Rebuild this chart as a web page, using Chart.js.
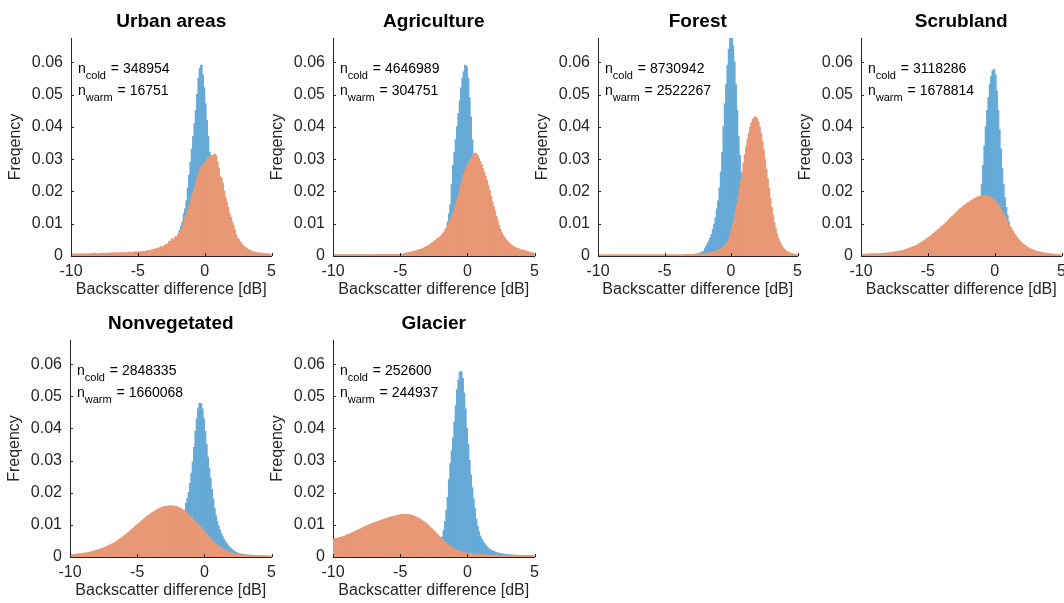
<!DOCTYPE html>
<html>
<head>
<meta charset="utf-8">
<script src="https://cdn.jsdelivr.net/npm/chart.js@4"></script>
<style>
  html, body { margin: 0; padding: 0; background: #fff; overflow: hidden; }
  body { width: 1064px; height: 603px; position: relative; }
  canvas { position: absolute; }
</style>
</head>
<body>
<script>
// histogram bin centres [dB], 0.1 dB bins from -10 to 5 (one row = 1 dB)
var binCenters = [
  -9.95, -9.85, -9.75, -9.65, -9.55, -9.45, -9.35, -9.25, -9.15, -9.05,
  -8.95, -8.85, -8.75, -8.65, -8.55, -8.45, -8.35, -8.25, -8.15, -8.05,
  -7.95, -7.85, -7.75, -7.65, -7.55, -7.45, -7.35, -7.25, -7.15, -7.05,
  -6.95, -6.85, -6.75, -6.65, -6.55, -6.45, -6.35, -6.25, -6.15, -6.05,
  -5.95, -5.85, -5.75, -5.65, -5.55, -5.45, -5.35, -5.25, -5.15, -5.05,
  -4.95, -4.85, -4.75, -4.65, -4.55, -4.45, -4.35, -4.25, -4.15, -4.05,
  -3.95, -3.85, -3.75, -3.65, -3.55, -3.45, -3.35, -3.25, -3.15, -3.05,
  -2.95, -2.85, -2.75, -2.65, -2.55, -2.45, -2.35, -2.25, -2.15, -2.05,
  -1.95, -1.85, -1.75, -1.65, -1.55, -1.45, -1.35, -1.25, -1.15, -1.05,
  -0.95, -0.85, -0.75, -0.65, -0.55, -0.45, -0.35, -0.25, -0.15, -0.05,
  0.05, 0.15, 0.25, 0.35, 0.45, 0.55, 0.65, 0.75, 0.85, 0.95,
  1.05, 1.15, 1.25, 1.35, 1.45, 1.55, 1.65, 1.75, 1.85, 1.95,
  2.05, 2.15, 2.25, 2.35, 2.45, 2.55, 2.65, 2.75, 2.85, 2.95,
  3.05, 3.15, 3.25, 3.35, 3.45, 3.55, 3.65, 3.75, 3.85, 3.95,
  4.05, 4.15, 4.25, 4.35, 4.45, 4.55, 4.65, 4.75, 4.85, 4.95
];

var panelTitles = ["Urban areas", "Agriculture", "Forest", "Scrubland", "Nonvegetated", "Glacier"];
var nCold = ["348954", "4646989", "8730942", "3118286", "2848335", "252600"];
var nWarm = ["16751", "304751", "2522267", "1678814", "1660068", "244937"];
var yTicks = [0, 0.01, 0.02, 0.03, 0.04, 0.05, 0.06];
var xTicks = [-10, -5, 0, 5];

var urbanCold = [
  0.0003, 0.0003, 0.0003, 0.0003, 0.0003, 0.0003, 0.0003, 0.0003, 0.0003, 0.0003,
  0.0003, 0.0003, 0.0003, 0.0003, 0.0003, 0.0003, 0.0003, 0.0003, 0.0003, 0.0003,
  0.0003, 0.0003, 0.0003, 0.0004, 0.0004, 0.0004, 0.0004, 0.0004, 0.0004, 0.0004,
  0.0004, 0.0005, 0.0005, 0.0005, 0.0005, 0.0005, 0.0005, 0.0005, 0.0005, 0.0006,
  0.0006, 0.0006, 0.0006, 0.0006, 0.0006, 0.0007, 0.0007, 0.0007, 0.0007, 0.0007,
  0.0007, 0.0008, 0.0008, 0.0008, 0.0008, 0.0009, 0.0009, 0.0009, 0.0009, 0.001,
  0.001, 0.001, 0.001, 0.0011, 0.0011, 0.0012, 0.0012, 0.0013, 0.0013, 0.0014,
  0.0014, 0.0015, 0.0017, 0.0019, 0.0021, 0.0023, 0.0027, 0.0032, 0.004, 0.005,
  0.0065, 0.008, 0.0092, 0.0105, 0.013, 0.0145, 0.017, 0.021, 0.025, 0.029,
  0.033, 0.037, 0.041, 0.045, 0.050, 0.055, 0.058, 0.059, 0.056, 0.052,
  0.047, 0.042, 0.037, 0.032, 0.027, 0.022, 0.018, 0.015, 0.012, 0.010,
  0.008, 0.0068, 0.0056, 0.0046, 0.0038, 0.0032, 0.0027, 0.0023, 0.002, 0.0018,
  0.0016, 0.0014, 0.0013, 0.0012, 0.0011, 0.001, 0.0009, 0.0009, 0.0008, 0.0008,
  0.0007, 0.0007, 0.0007, 0.0006, 0.0006, 0.0006, 0.0005, 0.0005, 0.0005, 0.0005,
  0.0004, 0.0004, 0.0004, 0.0004, 0.0004, 0.0003, 0.0003, 0.0003, 0.0003, 0.0003
];
var urbanWarm = [
  0.0005, 0.0004, 0.0006, 0.0005, 0.0005, 0.0006, 0.0005, 0.0006, 0.0005, 0.0006,
  0.0006, 0.0005, 0.0007, 0.0006, 0.0006, 0.0007, 0.0006, 0.0008, 0.0007, 0.0006,
  0.0007, 0.0006, 0.0007, 0.0008, 0.0007, 0.0007, 0.0008, 0.0007, 0.0008, 0.0008,
  0.0008, 0.0008, 0.0009, 0.0008, 0.0009, 0.0009, 0.0008, 0.001, 0.0009, 0.001,
  0.0009, 0.001, 0.0009, 0.0011, 0.001, 0.001, 0.0011, 0.0012, 0.0011, 0.0012,
  0.0011, 0.0012, 0.0011, 0.0013, 0.0014, 0.0013, 0.0015, 0.0016, 0.0015, 0.0017,
  0.0018, 0.0019, 0.0021, 0.002, 0.0023, 0.0025, 0.0024, 0.0028, 0.0027, 0.003,
  0.0032, 0.0036, 0.0034, 0.0045, 0.0041, 0.0052, 0.0048, 0.0055, 0.006, 0.0058,
  0.0068, 0.0072, 0.008, 0.0088, 0.0105, 0.012, 0.013, 0.014, 0.0155, 0.017,
  0.018, 0.0195, 0.021, 0.0225, 0.024, 0.0256, 0.0265, 0.0275, 0.028, 0.0287,
  0.029, 0.0295, 0.0305, 0.030, 0.031, 0.0312, 0.0308, 0.0315, 0.031, 0.029,
  0.027, 0.0245, 0.024, 0.0225, 0.020, 0.018, 0.0165, 0.015, 0.013, 0.012,
  0.0105, 0.0095, 0.008, 0.0065, 0.0055, 0.005, 0.0043, 0.0038, 0.0032, 0.0028,
  0.0025, 0.0022, 0.002, 0.0017, 0.0016, 0.0013, 0.0012, 0.0011, 0.001, 0.0009,
  0.0009, 0.0008, 0.0008, 0.0007, 0.0007, 0.0006, 0.0006, 0.0006, 0.0005, 0.0005
];

var agricultureCold = [
  0.0002, 0.0002, 0.0002, 0.0002, 0.0002, 0.0002, 0.0002, 0.0002, 0.0002, 0.0002,
  0.0002, 0.0002, 0.0002, 0.0002, 0.0002, 0.0002, 0.0002, 0.0002, 0.0002, 0.0002,
  0.0002, 0.0002, 0.0002, 0.0002, 0.0002, 0.0002, 0.0002, 0.0002, 0.0002, 0.0002,
  0.0002, 0.0002, 0.0002, 0.0002, 0.0002, 0.0003, 0.0003, 0.0003, 0.0003, 0.0003,
  0.0003, 0.0003, 0.0003, 0.0003, 0.0003, 0.0003, 0.0003, 0.0003, 0.0003, 0.0003,
  0.0003, 0.0003, 0.0003, 0.0004, 0.0004, 0.0004, 0.0004, 0.0004, 0.0005, 0.0005,
  0.0005, 0.0005, 0.0006, 0.0006, 0.0006, 0.0007, 0.0007, 0.0008, 0.0008, 0.0009,
  0.0009, 0.001, 0.0011, 0.0012, 0.0014, 0.0016, 0.0018, 0.0021, 0.0025, 0.003,
  0.0037, 0.0045, 0.0055, 0.0068, 0.0085, 0.0105, 0.013, 0.016, 0.022, 0.028,
  0.032, 0.036, 0.040, 0.044, 0.048, 0.052, 0.055, 0.057, 0.059, 0.0585,
  0.055, 0.049, 0.043, 0.036, 0.030, 0.025, 0.020, 0.016, 0.013, 0.0105,
  0.0085, 0.007, 0.0058, 0.0048, 0.004, 0.0034, 0.0029, 0.0025, 0.0022, 0.0019,
  0.0017, 0.0015, 0.0013, 0.0012, 0.0011, 0.001, 0.0009, 0.0008, 0.0008, 0.0007,
  0.0007, 0.0006, 0.0006, 0.0006, 0.0005, 0.0005, 0.0005, 0.0004, 0.0004, 0.0004,
  0.0004, 0.0003, 0.0003, 0.0003, 0.0003, 0.0003, 0.0003, 0.0002, 0.0002, 0.0002
];
var agricultureWarm = [
  0.0003, 0.0003, 0.0003, 0.0003, 0.0003, 0.0003, 0.0003, 0.0003, 0.0003, 0.0003,
  0.0003, 0.0003, 0.0003, 0.0003, 0.0003, 0.0003, 0.0003, 0.0003, 0.0003, 0.0003,
  0.0003, 0.0003, 0.0003, 0.0003, 0.0003, 0.0003, 0.0003, 0.0003, 0.0003, 0.0003,
  0.0003, 0.0003, 0.0003, 0.0004, 0.0003, 0.0004, 0.0004, 0.0004, 0.0004, 0.0004,
  0.0004, 0.0004, 0.0004, 0.0004, 0.0004, 0.0004, 0.0004, 0.0004, 0.0004, 0.0004,
  0.0005, 0.0005, 0.0006, 0.0007, 0.0008, 0.0009, 0.001, 0.0011, 0.0012, 0.0013,
  0.0014, 0.0015, 0.0016, 0.0018, 0.0019, 0.002, 0.0022, 0.0024, 0.0026, 0.0028,
  0.003, 0.0033, 0.0036, 0.0039, 0.0042, 0.0045, 0.0048, 0.0052, 0.0055, 0.0058,
  0.0062, 0.0066, 0.0072, 0.0078, 0.0085, 0.0094, 0.0103, 0.0113, 0.0122, 0.0132,
  0.0145, 0.0158, 0.0172, 0.0188, 0.0205, 0.0222, 0.0238, 0.0253, 0.0265, 0.0275,
  0.0285, 0.0292, 0.0298, 0.0305, 0.0312, 0.0318, 0.0316, 0.031, 0.0302, 0.0292,
  0.0282, 0.027, 0.0258, 0.0246, 0.0233, 0.0218, 0.0202, 0.0185, 0.0168, 0.0152,
  0.0137, 0.0122, 0.0108, 0.0094, 0.0082, 0.0072, 0.0064, 0.0057, 0.0051, 0.0046,
  0.0042, 0.0038, 0.0034, 0.0031, 0.0028, 0.0026, 0.0024, 0.0022, 0.0021, 0.0019,
  0.0018, 0.0017, 0.0016, 0.0015, 0.0013, 0.0012, 0.0011, 0.001, 0.0009, 0.0008
];

var forestCold = [
  0.0001, 0.0001, 0.0001, 0.0001, 0.0001, 0.0001, 0.0001, 0.0001, 0.0001, 0.0001,
  0.0001, 0.0001, 0.0001, 0.0001, 0.0001, 0.0001, 0.0001, 0.0001, 0.0001, 0.0001,
  0.0001, 0.0001, 0.0001, 0.0001, 0.0001, 0.0001, 0.0001, 0.0001, 0.0001, 0.0001,
  0.0001, 0.0001, 0.0001, 0.0001, 0.0001, 0.0001, 0.0001, 0.0001, 0.0001, 0.0001,
  0.0001, 0.0001, 0.0001, 0.0001, 0.0001, 0.0001, 0.0001, 0.0001, 0.0001, 0.0001,
  0.0001, 0.0001, 0.0001, 0.0001, 0.0001, 0.0001, 0.0001, 0.0001, 0.0001, 0.0001,
  0.0001, 0.0001, 0.0001, 0.0001, 0.0001, 0.0002, 0.0002, 0.0002, 0.0002, 0.0002,
  0.0003, 0.0003, 0.0004, 0.0005, 0.0006, 0.0007, 0.0008, 0.001, 0.0012, 0.0014,
  0.0022, 0.003, 0.0038, 0.0046, 0.0056, 0.0066, 0.0082, 0.0098, 0.0118, 0.0145,
  0.017, 0.021, 0.026, 0.032, 0.040, 0.047, 0.053, 0.059, 0.064, 0.068,
  0.069, 0.065, 0.060, 0.053, 0.045, 0.037, 0.031, 0.025, 0.020, 0.016,
  0.0125, 0.0098, 0.0077, 0.006, 0.0047, 0.0037, 0.003, 0.0024, 0.0019, 0.0015,
  0.0012, 0.001, 0.0008, 0.0007, 0.0006, 0.0005, 0.0004, 0.0004, 0.0003, 0.0003,
  0.0003, 0.0002, 0.0002, 0.0002, 0.0002, 0.0002, 0.0002, 0.0002, 0.0002, 0.0002,
  0.0001, 0.0001, 0.0001, 0.0001, 0.0001, 0.0001, 0.0001, 0.0001, 0.0001, 0.0001
];
var forestWarm = [
  0.0003, 0.0003, 0.0003, 0.0003, 0.0003, 0.0003, 0.0003, 0.0003, 0.0003, 0.0003,
  0.0003, 0.0003, 0.0003, 0.0003, 0.0003, 0.0003, 0.0003, 0.0003, 0.0003, 0.0003,
  0.0003, 0.0003, 0.0003, 0.0003, 0.0003, 0.0003, 0.0003, 0.0003, 0.0003, 0.0003,
  0.0003, 0.0003, 0.0003, 0.0003, 0.0003, 0.0003, 0.0003, 0.0003, 0.0003, 0.0003,
  0.0003, 0.0003, 0.0003, 0.0003, 0.0003, 0.0003, 0.0003, 0.0003, 0.0003, 0.0003,
  0.0003, 0.0003, 0.0003, 0.0003, 0.0003, 0.0003, 0.0003, 0.0003, 0.0003, 0.0003,
  0.0003, 0.0003, 0.0003, 0.0003, 0.0003, 0.0003, 0.0004, 0.0004, 0.0004, 0.0004,
  0.0004, 0.0004, 0.0004, 0.0005, 0.0005, 0.0005, 0.0005, 0.0006, 0.0006, 0.0007,
  0.0007, 0.0008, 0.0009, 0.0009, 0.001, 0.0011, 0.0012, 0.0013, 0.0014, 0.0016,
  0.0018, 0.002, 0.0022, 0.0025, 0.0028, 0.0031, 0.0036, 0.0043, 0.0052, 0.0066,
  0.0082, 0.0098, 0.0116, 0.0136, 0.0158, 0.0182, 0.0208, 0.0234, 0.026, 0.0287,
  0.0313, 0.0338, 0.036, 0.038, 0.0398, 0.0412, 0.0422, 0.0428, 0.043, 0.0425,
  0.0415, 0.0398, 0.0378, 0.0355, 0.0328, 0.0298, 0.0268, 0.0238, 0.0208, 0.0178,
  0.015, 0.0125, 0.0103, 0.0085, 0.0068, 0.0055, 0.0044, 0.0035, 0.0028, 0.0022,
  0.0018, 0.0015, 0.0012, 0.001, 0.0009, 0.0007, 0.0006, 0.0005, 0.0004, 0.0004
];

var scrublandCold = [
  0.0001, 0.0001, 0.0001, 0.0001, 0.0001, 0.0001, 0.0001, 0.0001, 0.0001, 0.0001,
  0.0001, 0.0001, 0.0001, 0.0001, 0.0001, 0.0001, 0.0001, 0.0001, 0.0001, 0.0001,
  0.0001, 0.0001, 0.0001, 0.0001, 0.0001, 0.0001, 0.0001, 0.0001, 0.0001, 0.0001,
  0.0002, 0.0002, 0.0002, 0.0002, 0.0002, 0.0002, 0.0002, 0.0002, 0.0002, 0.0002,
  0.0002, 0.0002, 0.0002, 0.0002, 0.0002, 0.0002, 0.0002, 0.0002, 0.0002, 0.0002,
  0.0002, 0.0002, 0.0002, 0.0002, 0.0002, 0.0002, 0.0002, 0.0002, 0.0002, 0.0002,
  0.0003, 0.0003, 0.0003, 0.0004, 0.0004, 0.0005, 0.0005, 0.0006, 0.0006, 0.0007,
  0.0008, 0.0009, 0.001, 0.0012, 0.0013, 0.0015, 0.0017, 0.002, 0.0022, 0.0025,
  0.0028, 0.0032, 0.0037, 0.0043, 0.005, 0.006, 0.0075, 0.0095, 0.014, 0.0185,
  0.022, 0.028, 0.034, 0.040, 0.045, 0.049, 0.053, 0.0555, 0.0572, 0.0576,
  0.056, 0.051, 0.045, 0.039, 0.033, 0.027, 0.022, 0.018, 0.015, 0.0125,
  0.0105, 0.0088, 0.0073, 0.006, 0.005, 0.0041, 0.0034, 0.0028, 0.0023, 0.0019,
  0.0016, 0.0013, 0.0011, 0.001, 0.0008, 0.0007, 0.0006, 0.0006, 0.0005, 0.0005,
  0.0004, 0.0004, 0.0003, 0.0003, 0.0003, 0.0003, 0.0002, 0.0002, 0.0002, 0.0002,
  0.0002, 0.0002, 0.0001, 0.0001, 0.0001, 0.0001, 0.0001, 0.0001, 0.0001, 0.0001
];
var scrublandWarm = [
  0.0004, 0.0004, 0.0004, 0.0005, 0.0005, 0.0005, 0.0005, 0.0006, 0.0006, 0.0006,
  0.0006, 0.0006, 0.0006, 0.0007, 0.0007, 0.0007, 0.0007, 0.0008, 0.0008, 0.0008,
  0.0009, 0.0009, 0.001, 0.001, 0.0011, 0.0012, 0.0012, 0.0013, 0.0014, 0.0015,
  0.0016, 0.0017, 0.0018, 0.0019, 0.0021, 0.0022, 0.0024, 0.0025, 0.0027, 0.0029,
  0.003, 0.0032, 0.0034, 0.0037, 0.0039, 0.0042, 0.0044, 0.0047, 0.005, 0.0053,
  0.0056, 0.0059, 0.0062, 0.0066, 0.0069, 0.0073, 0.0076, 0.008, 0.0083, 0.0087,
  0.009, 0.0094, 0.0098, 0.0102, 0.0106, 0.011, 0.0114, 0.0118, 0.0122, 0.0126,
  0.013, 0.0134, 0.0138, 0.0142, 0.0146, 0.0149, 0.0153, 0.0156, 0.0159, 0.0162,
  0.0165, 0.0168, 0.0171, 0.0173, 0.0176, 0.0178, 0.018, 0.0182, 0.0183, 0.0184,
  0.0185, 0.0186, 0.0186, 0.0186, 0.0186, 0.0185, 0.0183, 0.0181, 0.0178, 0.0174,
  0.0169, 0.0164, 0.0158, 0.0152, 0.0145, 0.0138, 0.013, 0.0122, 0.0114, 0.0106,
  0.0098, 0.009, 0.0083, 0.0076, 0.0069, 0.0063, 0.0057, 0.0052, 0.0047, 0.0043,
  0.0039, 0.0035, 0.0032, 0.0029, 0.0026, 0.0024, 0.0022, 0.002, 0.0018, 0.0017,
  0.0015, 0.0014, 0.0013, 0.0012, 0.0011, 0.001, 0.0009, 0.0008, 0.0008, 0.0007,
  0.0007, 0.0006, 0.0006, 0.0005, 0.0005, 0.0004, 0.0004, 0.0004, 0.0003, 0.0003
];

var nonvegetatedCold = [
  0.0002, 0.0002, 0.0002, 0.0002, 0.0002, 0.0002, 0.0002, 0.0002, 0.0002, 0.0002,
  0.0002, 0.0002, 0.0002, 0.0002, 0.0002, 0.0002, 0.0002, 0.0002, 0.0002, 0.0002,
  0.0002, 0.0002, 0.0002, 0.0002, 0.0002, 0.0002, 0.0002, 0.0002, 0.0002, 0.0002,
  0.0002, 0.0002, 0.0002, 0.0002, 0.0002, 0.0002, 0.0002, 0.0002, 0.0002, 0.0002,
  0.0003, 0.0003, 0.0003, 0.0003, 0.0003, 0.0003, 0.0003, 0.0003, 0.0003, 0.0003,
  0.0003, 0.0003, 0.0004, 0.0004, 0.0004, 0.0005, 0.0005, 0.0005, 0.0006, 0.0006,
  0.0007, 0.0007, 0.0008, 0.0008, 0.0009, 0.001, 0.001, 0.0011, 0.0012, 0.0013,
  0.0014, 0.0015, 0.0017, 0.0019, 0.0021, 0.0023, 0.0026, 0.003, 0.0034, 0.0039,
  0.0045, 0.0052, 0.006, 0.0075, 0.0095, 0.012, 0.0166, 0.0182, 0.020, 0.0228,
  0.026, 0.0295, 0.034, 0.039, 0.043, 0.046, 0.0478, 0.0476, 0.046, 0.043,
  0.039, 0.035, 0.031, 0.0275, 0.0245, 0.021, 0.018, 0.015, 0.0128, 0.011,
  0.0095, 0.0083, 0.0073, 0.0063, 0.0054, 0.0047, 0.0041, 0.0036, 0.0031, 0.0027,
  0.0023, 0.0019, 0.0016, 0.0014, 0.0012, 0.001, 0.0009, 0.0008, 0.0007, 0.0007,
  0.0006, 0.0006, 0.0005, 0.0005, 0.0005, 0.0004, 0.0004, 0.0004, 0.0004, 0.0003,
  0.0003, 0.0003, 0.0003, 0.0003, 0.0003, 0.0002, 0.0002, 0.0002, 0.0002, 0.0002
];
var nonvegetatedWarm = [
  0.0006, 0.0006, 0.0007, 0.0007, 0.0008, 0.0008, 0.0009, 0.0009, 0.001, 0.001,
  0.0011, 0.0011, 0.0012, 0.0013, 0.0014, 0.0015, 0.0016, 0.0017, 0.0019, 0.002,
  0.0021, 0.0022, 0.0024, 0.0025, 0.0027, 0.0028, 0.003, 0.0032, 0.0034, 0.0036,
  0.0038, 0.004, 0.0042, 0.0045, 0.0047, 0.005, 0.0053, 0.0056, 0.0059, 0.0062,
  0.0066, 0.0069, 0.0072, 0.0076, 0.0079, 0.0083, 0.0087, 0.009, 0.0094, 0.0098,
  0.0101, 0.0105, 0.0108, 0.0112, 0.0115, 0.0119, 0.0122, 0.0126, 0.0129, 0.0132,
  0.0135, 0.0138, 0.014, 0.0143, 0.0145, 0.0148, 0.015, 0.0152, 0.0153, 0.0155,
  0.0156, 0.0157, 0.0157, 0.0158, 0.0158, 0.0158, 0.0158, 0.0157, 0.0157, 0.0156,
  0.0154, 0.0152, 0.015, 0.0147, 0.0144, 0.0141, 0.0137, 0.0133, 0.0129, 0.0125,
  0.0121, 0.0117, 0.0112, 0.0108, 0.0104, 0.0099, 0.0095, 0.009, 0.0086, 0.0081,
  0.0076, 0.0071, 0.0066, 0.0061, 0.0056, 0.0052, 0.0047, 0.0043, 0.004, 0.0036,
  0.0033, 0.003, 0.0027, 0.0025, 0.0022, 0.002, 0.0018, 0.0016, 0.0014, 0.0013,
  0.0011, 0.001, 0.0009, 0.0008, 0.0008, 0.0007, 0.0007, 0.0006, 0.0006, 0.0005,
  0.0005, 0.0005, 0.0004, 0.0004, 0.0004, 0.0004, 0.0003, 0.0003, 0.0003, 0.0003,
  0.0003, 0.0003, 0.0002, 0.0002, 0.0002, 0.0002, 0.0002, 0.0002, 0.0002, 0.0002
];

var glacierCold = [
  0.0002, 0.0002, 0.0002, 0.0002, 0.0002, 0.0002, 0.0002, 0.0002, 0.0002, 0.0002,
  0.0002, 0.0002, 0.0002, 0.0002, 0.0002, 0.0002, 0.0002, 0.0002, 0.0002, 0.0002,
  0.0002, 0.0002, 0.0002, 0.0002, 0.0002, 0.0002, 0.0002, 0.0002, 0.0002, 0.0002,
  0.0002, 0.0002, 0.0002, 0.0002, 0.0002, 0.0002, 0.0002, 0.0002, 0.0002, 0.0002,
  0.0002, 0.0002, 0.0002, 0.0002, 0.0002, 0.0002, 0.0002, 0.0002, 0.0002, 0.0002,
  0.0002, 0.0002, 0.0002, 0.0002, 0.0002, 0.0002, 0.0002, 0.0002, 0.0002, 0.0002,
  0.0003, 0.0003, 0.0003, 0.0003, 0.0004, 0.0004, 0.0004, 0.0005, 0.0005, 0.0006,
  0.0006, 0.0007, 0.0008, 0.0009, 0.0011, 0.0013, 0.0016, 0.002, 0.0026, 0.0034,
  0.0045, 0.0062, 0.0082, 0.011, 0.0145, 0.0185, 0.024, 0.029, 0.033, 0.037,
  0.042, 0.047, 0.052, 0.055, 0.0575, 0.0575, 0.0555, 0.051, 0.046, 0.040,
  0.035, 0.030, 0.0255, 0.0215, 0.018, 0.015, 0.0118, 0.0095, 0.0078, 0.0065,
  0.0056, 0.0049, 0.0042, 0.0036, 0.0031, 0.0027, 0.0024, 0.0021, 0.0019, 0.0017,
  0.0015, 0.0013, 0.0012, 0.0011, 0.001, 0.0009, 0.0008, 0.0008, 0.0007, 0.0007,
  0.0006, 0.0006, 0.0006, 0.0005, 0.0005, 0.0005, 0.0005, 0.0004, 0.0004, 0.0004,
  0.0004, 0.0003, 0.0003, 0.0003, 0.0003, 0.0003, 0.0003, 0.0003, 0.0003, 0.0003
];
var glacierWarm = [
  0.0054, 0.0055, 0.0057, 0.0058, 0.0059, 0.006, 0.0061, 0.0063, 0.0064, 0.0066,
  0.0068, 0.0069, 0.0071, 0.0073, 0.0075, 0.0077, 0.0079, 0.0081, 0.0083, 0.0085,
  0.0087, 0.0089, 0.0091, 0.0093, 0.0095, 0.0097, 0.0099, 0.0101, 0.0102, 0.0104,
  0.0105, 0.0107, 0.0108, 0.011, 0.0111, 0.0113, 0.0114, 0.0116, 0.0117, 0.0119,
  0.012, 0.0121, 0.0123, 0.0124, 0.0125, 0.0126, 0.0127, 0.0128, 0.0129, 0.013,
  0.0131, 0.0132, 0.0131, 0.0133, 0.0132, 0.0131, 0.0132, 0.013, 0.0129, 0.0128,
  0.0126, 0.0124, 0.0122, 0.012, 0.0118, 0.0115, 0.0112, 0.0109, 0.0106, 0.0103,
  0.0099, 0.0095, 0.0091, 0.0087, 0.0083, 0.0079, 0.0074, 0.007, 0.0065, 0.0061,
  0.0057, 0.0053, 0.0049, 0.0045, 0.0041, 0.0038, 0.0035, 0.0032, 0.0029, 0.0027,
  0.0024, 0.0022, 0.002, 0.0019, 0.0017, 0.0016, 0.0014, 0.0013, 0.0012, 0.0011,
  0.0011, 0.001, 0.001, 0.0009, 0.0009, 0.0008, 0.0008, 0.0008, 0.0007, 0.0007,
  0.0007, 0.0006, 0.0006, 0.0006, 0.0006, 0.0005, 0.0005, 0.0005, 0.0005, 0.0005,
  0.0005, 0.0005, 0.0005, 0.0004, 0.0004, 0.0004, 0.0004, 0.0004, 0.0004, 0.0004,
  0.0004, 0.0004, 0.0004, 0.0004, 0.0004, 0.0004, 0.0004, 0.0004, 0.0004, 0.0004,
  0.0004, 0.0004, 0.0004, 0.0003, 0.0003, 0.0003, 0.0003, 0.0003, 0.0003, 0.0003
];

var coldSeries = [urbanCold, agricultureCold, forestCold, scrublandCold, nonvegetatedCold, glacierCold];
var warmSeries = [urbanWarm, agricultureWarm, forestWarm, scrublandWarm, nonvegetatedWarm, glacierWarm];

// plot-area boxes (pixels) for each subplot
var plotBoxes = [
  { left: 71, top: 38, width: 201, height: 218 },
  { left: 333, top: 38, width: 202, height: 218 },
  { left: 598, top: 38, width: 200, height: 218 },
  { left: 861, top: 38, width: 201, height: 218 },
  { left: 70, top: 340, width: 202, height: 217 },
  { left: 333, top: 340, width: 202, height: 217 }
];

var FONT = '"Liberation Sans", Arial, Helvetica, sans-serif';
var AXIS_COLOR = "#262626";
var COLD_COLOR = "rgb(102, 170, 215)";
var WARM_COLOR = "rgb(232, 152, 117)";
var LEFT_W = 71, TOP_H = 38, BOTTOM_H = 44, RIGHT_PAD = 10;

Chart.defaults.font.family = FONT;
Chart.defaults.color = AXIS_COLOR;

// small inward tick marks like the original axes
var inwardTicks = {
	id: "inwardTicks",
	afterDraw: function (chart) {
		var ctx = chart.ctx, ca = chart.chartArea;
		var xs = chart.scales.x, ys = chart.scales.y;
		ctx.save();
		ctx.strokeStyle = AXIS_COLOR;
		ctx.lineWidth = 1;
		ctx.beginPath();
		ys.ticks.forEach(function (t) {
			var y = Math.round(ys.getPixelForValue(t.value)) + 0.5;
			ctx.moveTo(ca.left, y);
			ctx.lineTo(ca.left + 3, y);
		});
		xs.ticks.forEach(function (t) {
			var x = Math.round(xs.getPixelForValue(t.value)) + 0.5;
			ctx.moveTo(x, ca.bottom);
			ctx.lineTo(x, ca.bottom - 3);
		});
		ctx.stroke();
		ctx.restore();
	}
};

function drawCount(ctx, x, y, sub, value) {
	ctx.font = "14px " + FONT;
	ctx.fillText("n", x, y);
	var w = ctx.measureText("n").width;
	ctx.font = "11px " + FONT;
	ctx.fillText(sub, x + w, y + 6);
	var w2 = ctx.measureText(sub).width;
	ctx.font = "14px " + FONT;
	ctx.fillText(" = " + value, x + w + w2 + 1, y);
}

function makeCountPlugin(i) {
	return {
		id: "counts" + i,
		afterDraw: function (chart) {
			var ctx = chart.ctx, ca = chart.chartArea;
			ctx.save();
			ctx.fillStyle = "#000";
			ctx.textBaseline = "alphabetic";
			ctx.textAlign = "left";
			drawCount(ctx, ca.left + 7, ca.top + 34.5, "cold", nCold[i]);
			drawCount(ctx, ca.left + 7, ca.top + 57, "warm", nWarm[i]);
			ctx.restore();
		}
	};
}

function renderPanel(i) {
	var box = plotBoxes[i];
	var canvas = document.createElement("canvas");
	var w = LEFT_W + box.width + RIGHT_PAD;
	var h = TOP_H + box.height + BOTTOM_H;
	canvas.width = w;
	canvas.height = h;
	canvas.style.width = w + "px";
	canvas.style.height = h + "px";
	canvas.style.left = (box.left - LEFT_W) + "px";
	canvas.style.top = (box.top - TOP_H) + "px";
	document.body.appendChild(canvas);

	var warmPts = binCenters.map(function (x, k) { return { x: x, y: warmSeries[i][k] }; });
	var coldPts = binCenters.map(function (x, k) { return { x: x, y: coldSeries[i][k] }; });

	new Chart(canvas.getContext("2d"), {
		type: "bar",
		data: {
			datasets: [
				{ label: "warm", data: warmPts, backgroundColor: WARM_COLOR, order: 0 },
				{ label: "cold", data: coldPts, backgroundColor: COLD_COLOR, order: 1 }
			]
		},
		options: {
			responsive: false,
			animation: false,
			devicePixelRatio: 1,
			layout: { padding: { right: RIGHT_PAD } },
			datasets: {
				bar: {
					barPercentage: 1,
					categoryPercentage: 1,
					grouped: false,
					borderWidth: 0,
					inflateAmount: 0.6
				}
			},
			plugins: {
				legend: { display: false },
				tooltip: { enabled: false },
				title: {
					display: true,
					text: panelTitles[i],
					fullSize: false,
					color: "#000",
					font: { family: FONT, size: 19, weight: "bold" },
					padding: { top: 10.4, bottom: 4.8 }
				}
			},
			scales: {
				x: {
					type: "linear",
					min: -10,
					max: 5,
					offset: false,
					z: 1,
					afterBuildTicks: function (s) { s.ticks = xTicks.map(function (v) { return { value: v }; }); },
					afterFit: function (s) { s.height = BOTTOM_H; },
					ticks: { font: { size: 16 }, color: AXIS_COLOR, padding: 6, maxRotation: 0, autoSkip: false },
					grid: { display: false, drawTicks: false },
					border: { display: true, color: AXIS_COLOR, width: 1 },
					title: {
						display: true,
						text: "Backscatter difference [dB]",
						color: AXIS_COLOR,
						font: { size: 16 },
						padding: { top: 0, bottom: 1 }
					}
				},
				y: {
					min: 0,
					max: 0.0675,
					z: 1,
					afterBuildTicks: function (s) { s.ticks = yTicks.map(function (v) { return { value: v }; }); },
					afterFit: function (s) { s.width = LEFT_W; },
					ticks: {
						font: { size: 16 },
						color: AXIS_COLOR,
						padding: 8,
						callback: function (v) { return v === 0 ? "0" : v.toFixed(2); }
					},
					grid: { display: false, drawTicks: false },
					border: { display: true, color: AXIS_COLOR, width: 1 },
					title: {
						display: true,
						text: "Freqency",
						color: AXIS_COLOR,
						font: { size: 16 },
						padding: { top: 6.4, bottom: 0 }
					}
				}
			}
		},
		plugins: [inwardTicks, makeCountPlugin(i)]
	});
}

for (var i = 0; i < plotBoxes.length; i++) renderPanel(i);
</script>
</body>
</html>
